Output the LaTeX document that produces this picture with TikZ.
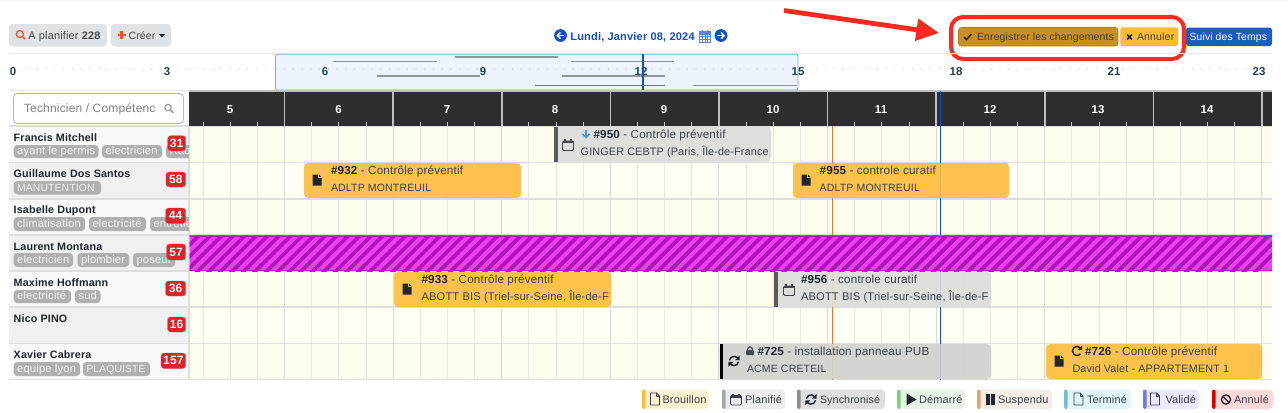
\documentclass[tikz,border=0pt]{standalone}
\usepackage{fontspec}
\setmainfont[LetterSpace=1.5]{Liberation Sans}
\usetikzlibrary{arrows.meta}
\definecolor{rowa}{HTML}{F8F8F8}
\definecolor{rowb}{HTML}{F0F0F0}
\definecolor{cella}{HTML}{FDFDEE}
\definecolor{cellb}{HTML}{FFFFF6}
\definecolor{gridl}{HTML}{E8E8DE}
\definecolor{gridm}{HTML}{DADAD6}
\definecolor{rowl}{HTML}{DEDEDE}
\definecolor{headk}{HTML}{2E2E2E}
\definecolor{ink}{HTML}{20262C}
\definecolor{txt}{HTML}{3A3F45}
\definecolor{tagg}{HTML}{B0B0B0}
\definecolor{badge}{HTML}{DD2327}
\definecolor{jaune}{HTML}{FDBD3F}
\definecolor{gristask}{HTML}{DCDCDC}
\definecolor{bleu}{HTML}{1450BE}
\definecolor{rouge}{HTML}{FF2A1F}
\definecolor{btn}{HTML}{E0E3E6}
\definecolor{orangel}{HTML}{E07A3A}
\definecolor{selfill}{HTML}{E9F2FD}
\definecolor{selline}{HTML}{74ACEC}
\definecolor{magA}{HTML}{EC42EE}
\definecolor{magB}{HTML}{B010BE}
\definecolor{orng}{HTML}{F8502A}
\definecolor{ovl}{HTML}{8E959B}
\definecolor{tickc}{HTML}{22404E}
\definecolor{enr}{HTML}{C8911F}
\definecolor{enrb}{HTML}{B08018}
\definecolor{ann}{HTML}{FFBC33}
\definecolor{suivi}{HTML}{1E5CC4}
\newcommand{\fsz}[1]{\fontsize{#1pt}{10pt}\selectfont}
\tikzset{
  x=0.75pt,y=-0.75pt,
  tx/.style={inner sep=0pt,outer sep=0pt,anchor=base west,font=\fsz{8.2},text=txt},
  titl/.style={tx,font=\fsz{8.75}},
  nm/.style={tx,font=\fsz{8.05}\bfseries,text=ink},
  taglab/.style={tx,text=white!95!black,font=\fsz{8.4}},
  ticklab/.style={anchor=base,inner sep=0pt,font=\fsz{8.6}\bfseries,text=tickc},
  hd/.style={anchor=base,inner sep=0pt,font=\fsz{8.6}\bfseries,text=white},
  icline/.style={line width=0.7pt,line cap=round,line join=round},
}
\newcommand{\tagpill}[6]{%
  \fill[tagg,rounded corners=2.6pt] (#2,#4) rectangle (#3,#5);
  \node[taglab] (#1) at ({#2+3.5},{#5-3.2}) {#6};}
\newcommand{\badgebox}[5]{%
  \draw[badge!80!white,fill=badge,rounded corners=2.4pt,line width=0.3pt] (#2,#3) rectangle (185.7,#4);
  \node[anchor=base,inner sep=0pt,font=\fsz{9}\bfseries,text=white] (#1) at ({(#2+185.7)/2},{#4-3.9}) {#5};}
\newcommand{\taskbg}[5]{%
  \fill[#5,fill opacity=0.92,rounded corners=3pt] (#1,#3) rectangle (#2,#4);}
\newcommand{\icdocfull}[3]{\begin{scope}[shift={(#1,#2)}]
  \fill[#3] (-4.5,-5.5) -- (1,-5.5) -- (1,-2) -- (4.5,-2) -- (4.5,5.5) -- (-4.5,5.5) -- cycle;
  \fill[#3] (2,-5.5) -- (4.5,-3) -- (2,-3) -- cycle;\end{scope}}
\newcommand{\icdocline}[3]{\begin{scope}[shift={(#1,#2)}]
  \draw[#3,icline] (-4.5,-6) -- (1.5,-6) -- (4.5,-3) -- (4.5,6) -- (-4.5,6) -- cycle;
  \draw[#3,icline] (1.5,-6) -- (1.5,-3) -- (4.5,-3);\end{scope}}
\newcommand{\iccal}[3]{\begin{scope}[shift={(#1,#2)}]
  \draw[#3,icline,rounded corners=1pt] (-5.5,-4) rectangle (5.5,5.5);
  \fill[#3] (-5.5,-4) rectangle (5.5,-1.6);
  \fill[#3] (-3.8,-6) rectangle (-2.4,-3.5);
  \fill[#3] (2.4,-6) rectangle (3.8,-3.5);\end{scope}}
\newcommand{\icsync}[3]{\begin{scope}[shift={(#1,#2)}]
  \draw[#3,line width=1.1pt] (-4.6,-0.8) arc (-170:-40:4.7);
  \draw[#3,line width=1.1pt] (4.6,0.8) arc (10:140:4.7);
  \fill[#3] (5.7,-5.7) -- (5.7,-0.9) -- (0.9,-0.9) -- cycle;
  \fill[#3] (-5.7,5.7) -- (-5.7,0.9) -- (-0.9,0.9) -- cycle;\end{scope}}
\newcommand{\icredo}[3]{\begin{scope}[shift={(#1,#2)}]
  \draw[#3,line width=1.1pt] (3.3,-3.3) arc (-45:-320:4.6);
  \fill[#3] (5,-5.5) -- (5,-1) -- (0.8,-1) -- cycle;\end{scope}}
\newcommand{\iclock}[3]{\begin{scope}[shift={(#1,#2)}]
  \draw[#3,line width=0.9pt] (-2.4,-0.5) -- (-2.4,-1.6) arc (180:360:2.4) -- (2.4,-0.5);
  \fill[#3,rounded corners=0.5pt] (-3.8,-0.8) rectangle (3.8,4);\end{scope}}
\newcommand{\iccircarrow}[3]{\begin{scope}[shift={(#1,#2)}]
  \fill[bleu] (0,0) circle (6.4);
  \begin{scope}[xscale=#3]
  \draw[white,line width=1.1pt] (-3.2,0) -- (3.6,0);
  \draw[white,line width=1.1pt] (-0.2,-3) -- (-3.2,0) -- (-0.2,3);
  \end{scope}\end{scope}}
\newcommand{\legitem}[4]{%
  \fill[#4,rounded corners=3pt] (#1,389.5) rectangle (#2,409);
  \fill[#3,rounded corners=1.5pt] (#1,389.5) rectangle ({#1+3.6},409);}
\begin{document}
\begin{tikzpicture}
\useasboundingbox (0,0) rectangle (1288,412);
\fill[white] (0,0) rectangle (1288,412);
\fill[gray!8] (0,0) rectangle (1288,0.8);
% ---------- top bar
\fill[btn,rounded corners=2.5pt] (9,24) rectangle (107,46.5);
\draw[orng,line width=0.9pt] (19.8,34) circle (3.6);
\draw[orng,line width=1.1pt] (22.4,36.6) -- (25,39.2);
\node[tx,text=ink!85] (aplan) at (28.5,39.5) {A planifier \textbf{228}};
\fill[btn,rounded corners=2.5pt] (111,24) rectangle (171,46.5);
\fill[orng] (117.5,34.2) rectangle (125.5,36.4);
\fill[orng] (120.4,31.2) rectangle (122.6,39.4);
\node[tx,text=ink!85,font=\fsz{7.9}] (creer) at (128.5,39.5) {Créer};
\fill[ink] (159,34) -- (165,34) -- (162,37.4) -- cycle;
% date
\iccircarrow{560.5}{35.5}{1}
\node[anchor=base,inner sep=0pt,text=bleu,font=\fsz{8.3}\bfseries] (date) at (632.5,40.5) {Lundi, Janvier 08, 2024};
\begin{scope}[shift={(705,36)}]
 \draw[bleu!70!white,line width=0.5pt] (-5.5,-4.5) rectangle (5.5,6);
 \fill[bleu!70!white] (-5.5,-4.5) rectangle (5.5,-1.5);
 \foreach \g in {-2.7,0,2.7}{\draw[bleu!70!white,line width=0.4pt] (\g,-1.5) -- (\g,6);}
 \foreach \g in {0.6,3.3}{\draw[bleu!70!white,line width=0.4pt] (-5.5,\g) -- (5.5,\g);}
 \fill[bleu!70!white] (-3.4,-6) rectangle (-2.2,-3.5);
 \fill[bleu!70!white] (2.2,-6) rectangle (3.4,-3.5);
\end{scope}
\iccircarrow{721}{35.5}{-1}
% right buttons
\draw[enrb,fill=enr,rounded corners=2pt,line width=0.4pt] (958.5,27.5) rectangle (1118,46);
\begin{scope}[shift={(964,36.5)}]\draw[ink,line width=1.1pt] (0,0.5) -- (2.5,3) -- (7.5,-2.5);\end{scope}
\node[tx,font=\fsz{7.85}] (enreg) at (977,40.5) {Enregistrer les changements};
\draw[ann!85!black,fill=ann,rounded corners=2pt,line width=0.2pt] (1120.5,27.5) rectangle (1178,46);
\begin{scope}[shift={(1129.5,37)}]\draw[ink,line width=1.3pt] (-2.4,-2.4) -- (2.4,2.4) (-2.4,2.4) -- (2.4,-2.4);\end{scope}
\node[tx,font=\fsz{7.9}] (annul) at (1137,40.5) {Annuler};
\fill[suivi,rounded corners=2pt] (1186,27.5) rectangle (1272,46);
\node[tx,text=white,font=\fsz{7.8}] (suivit) at (1189.5,40.5) {Suivi des Temps};
\draw[rouge,line width=3pt,rounded corners=9pt] (951,17) rectangle (1184,59);
% red arrow
\coordinate (arrowstart) at (784,10.5);
\coordinate (arrowtip) at (939,33);
\draw[rouge,line width=3.6pt,-{Triangle[length=17pt,width=16pt]}] (arrowstart) -- (arrowtip);
% ---------- overview
\fill[rowl!70!white] (9,53) rectangle (1272,54.3);
\fill[rowl!70!white] (9,89.6) rectangle (1272,91);
\foreach \d in {0,...,141}{\fill[gray!40] ({20+8.75*\d},69) circle (0.7);}
\draw[selline,fill=selfill,fill opacity=0.85,rounded corners=1.5pt,line width=0.6pt] (275.5,54.3) rectangle (798,90);
\foreach \d in {0,...,59}{\fill[gray!40] ({276+8.75*\d},69) circle (0.7);}
\foreach \a/\b/\c in {333/437/61.5,455/558/57,571/674/61.5,377/480/76,562/665/76,693/797/85.5}{\draw[ovl,line width=1pt] (\a,\c) -- (\b,\c);}
\draw[ovl!80!black,line width=1pt] (535,85.5) -- (665,85.5);
\foreach \p/\v in {13/0,167/3,325/6,483/9,641/12,798/15,956/18,1114/21,1259/23}{\node[ticklab] (ov\v) at (\p,75.5) {\v};}
\draw[bleu,line width=0.9pt] (643,54.3) -- (643,90);
% ---------- search
\draw[rowl!80!blue,fill=white,rounded corners=3pt,line width=0.6pt] (13.5,93.5) rectangle (183.5,123.5);
\node[tx,text=gray,font=\fsz{9}] (search) at (24,112.5) {Technicien / Compétenc};
\draw[gray!80,line width=0.8pt] (168,107.5) circle (3.2);
\draw[gray!80,line width=1.2pt] (170.4,110) -- (173.2,112.8);
% ---------- rows
\foreach \ya/\yb/\ca/\cb in {126/162.5/rowa/cella,162.5/199/rowb/cellb,199/235/rowa/cella,235/271/rowb/cella,271/307/rowa/cella,307/343.5/rowb/cellb,343.5/379.5/rowa/cella}{
  \fill[\ca] (9,\ya) rectangle (189,\yb);
  \fill[\cb] (189,\ya) rectangle (1272,\yb);}
% grid
\foreach \k in {0,...,39}{\draw[gridl,line width=0.6pt] ({203+27.15*\k},126) -- ({203+27.15*\k},379.5);}
\foreach \k in {0,...,9}{\draw[gridm,line width=0.8pt] ({284.5+108.6*\k},126) -- ({284.5+108.6*\k},379.5);}
\foreach \r in {126,162.5,199,235,271,307,343.5,379.5}{\draw[rowl,line width=0.8pt] (9,\r) -- (1272,\r);}
\draw[rowl,line width=0.8pt] (189,126) -- (189,379.5);
% tags
\begin{scope}
\clip (9,126) rectangle (189,380);
\tagpill{t1a}{13.7}{98.5}{145}{158}{ayant le permis}
\tagpill{t1b}{102}{162}{145}{158}{electricien}
\tagpill{t1c}{166}{200}{145}{158}{Rab}
\tagpill{t2a}{13.7}{101}{181}{194.5}{\fsz{7.75}MANUTENTION}
\tagpill{t3a}{13.7}{85}{217}{231}{climatisation}
\tagpill{t3b}{89}{146}{217}{231}{electricité}
\tagpill{t3c}{150}{205}{217}{231}{entretien}
\tagpill{t4a}{13.7}{73}{253}{267}{electricien}
\tagpill{t4b}{77.5}{129}{253}{267}{plombier}
\tagpill{t4c}{133}{175}{253}{267}{poseur}
\tagpill{t5a}{13.7}{71}{290}{303}{electricité}
\tagpill{t5b}{75}{100.5}{290}{303}{sud}
\tagpill{t7a}{13.7}{80}{362}{376}{equipe lyon}
\tagpill{t7b}{83}{150}{362}{376}{\fsz{7.7}PLAQUISTE}
\end{scope}
% names
\node[nm] (n1) at (13.7,141) {Francis Mitchell};
\node[nm] (n2) at (13.7,177) {Guillaume Dos Santos};
\node[nm] (n3) at (13.7,213.5) {Isabelle Dupont};
\node[nm] (n4) at (13.7,250) {Laurent Montana};
\node[nm] (n5) at (13.7,286.5) {Maxime Hoffmann};
\node[nm] (n6) at (13.7,322.5) {Nico PINO};
\node[nm] (n7) at (13.7,358.5) {Xavier Cabrera};
% badges
\badgebox{b1}{167.7}{135.7}{151}{31}
\badgebox{b2}{166}{172}{187}{58}
\badgebox{b3}{165.5}{208}{223.5}{44}
\badgebox{b4}{166.5}{244}{260}{57}
\badgebox{b5}{165.5}{281}{296}{36}
\badgebox{b6}{167.5}{317}{332}{16}
\badgebox{b7}{161}{353}{368.5}{157}
% ---------- header
\fill[headk] (189,91) rectangle (1272,126);
\foreach \k in {0,...,39}{\draw[gray!45,line width=0.6pt] ({203+27.15*\k},122) -- ({203+27.15*\k},126);}
\foreach \k in {0,...,9}{\draw[gray!50,line width=1.2pt] ({284.5+108.6*\k},91) -- ({284.5+108.6*\k},126);}
\draw[gray!50,line width=1.2pt] (189,91) -- (1272,91);
\foreach \p/\v in {230/5,338.5/6,447/7,555/8,664/9,773/10,881/11,990/12,1098/13,1207/14}{\node[hd] (h\v) at (\p,113) {\v};}
% now lines
\draw[orangel,line width=1.1pt] (832.5,126) -- (832.5,380);
\draw[bleu,line width=0.9pt] (940.7,91) -- (940.7,380);
% stripes
\begin{scope}
\clip (189.5,235.5) rectangle (1272,271);
\fill[magA] (189,235) rectangle (1272,271);
\foreach \k in {0,...,96}{\draw[magB,line width=2.9pt] ({150+11.5*\k},273) -- ({150+11.5*\k+40},233);}
\fill[magB] (189,235.5) rectangle (1272,236.8);
\fill[magB] (189,269.8) rectangle (1272,271);
\end{scope}
% ---------- tasks
\taskbg{554}{771}{126.5}{162}{gristask}
\fill[black!65] (554,126.5) rectangle (558,162);
\iccal{568}{145}{ink!85}
\begin{scope}[shift={(586,134)}]\draw[cyan!60!blue!70,line width=1.2pt] (0,-4) -- (0,3.5);\draw[cyan!60!blue!70,line width=1.2pt] (-3.6,0) -- (0,3.5) -- (3.6,0);\end{scope}
\node[titl] (c950a) at (593.5,138) {\textbf{\textcolor{ink}{\#950}} - Contrôle préventif};
\node[tx,font=\fsz{8.1}] (c950b) at (580.7,155) {GINGER CEBTP (Paris, Île-de-France};
\taskbg{304}{521}{163}{198}{jaune}
\icdocfull{317}{180}{ink}
\node[titl] (c932a) at (331,174) {\textbf{\textcolor{ink}{\#932}} - Contrôle préventif};
\node[tx,font=\fsz{7.9}] (c932b) at (331,191) {ADLTP MONTREUIL};
\taskbg{793}{1009}{163}{198}{jaune}
\icdocfull{806}{180}{ink}
\node[titl] (c955a) at (819.7,174) {\textbf{\textcolor{ink}{\#955}} - controle curatif};
\node[tx,font=\fsz{7.9}] (c955b) at (819.7,191) {ADLTP MONTREUIL};
\taskbg{394}{611}{271.8}{307}{jaune}
\icdocfull{407}{289}{ink}
\node[titl] (c933a) at (421.5,283) {\textbf{\textcolor{ink}{\#933}} - Contrôle préventif};
\node[tx,font=\fsz{8.35}] (c933b) at (421.5,300) {ABOTT BIS (Triel-sur-Seine, Île-de-F};
\taskbg{774}{991}{271.8}{307}{gristask}
\fill[black!65] (774,271.8) rectangle (778,307);
\iccal{789}{290}{ink!85}
\node[titl] (c956a) at (801,283) {\textbf{\textcolor{ink}{\#956}} - controle curatif};
\node[tx,font=\fsz{8.35}] (c956b) at (801,300) {ABOTT BIS (Triel-sur-Seine, Île-de-F};
\taskbg{719.5}{991}{344}{379}{gristask!95!black}
\fill[black] (719.5,344) rectangle (723.3,379);
\icsync{734}{361}{ink}
\iclock{750}{351}{ink!85}
\node[titl] (c725a) at (757.5,355) {\textbf{\textcolor{ink}{\#725}} - installation panneau PUB};
\node[tx,font=\fsz{7.9}] (c725b) at (747,372) {ACME CRETEIL};
\taskbg{1046}{1262}{344}{379}{jaune}
\icdocfull{1059}{361}{ink}
\icredo{1077}{351}{ink}
\node[titl] (c726a) at (1085,355) {\textbf{\textcolor{ink}{\#726}} - Contrôle préventif};
\node[tx,font=\fsz{8.1}] (c726b) at (1072.5,372) {David Valet - APPARTEMENT 1};
% ---------- legend
\legitem{642}{709}{ann}{ann!22!white}
\icdocline{655}{399}{txt}
\node[tx] (l1) at (662.5,403) {Brouillon};
\legitem{722}{785}{gray!70}{gray!15}
\iccal{736}{399.5}{txt}
\node[tx] (l2) at (745,403) {Planifié};
\legitem{797}{885}{gray!90}{gray!25}
\icsync{811}{399.5}{ink}
\node[tx,font=\fsz{7.95}] (l3) at (820,403) {Synchronisé};
\legitem{897}{965}{green!45!gray!70}{green!30!gray!14}
\fill[ink] (906.5,393.5) -- (916.5,399.5) -- (906.5,405.5) -- cycle;
\node[tx] (l4) at (919,403) {Démarré};
\legitem{977}{1052}{orange!60!gray!70}{orange!30!gray!14}
\fill[ink] (986,394) rectangle (989.5,405);
\fill[ink] (991,394) rectangle (994.5,405);
\node[tx] (l5) at (998,403) {Suspendu};
\legitem{1064}{1131}{cyan!55!gray!80}{cyan!12!white}
\icdocline{1078.5}{399}{txt}
\node[tx] (l6) at (1087,403) {Terminé};
\legitem{1143}{1199}{blue!55!white}{blue!9!white}
\icdocline{1155}{399}{txt}
\node[tx] (l7) at (1165.5,403) {Validé};
\legitem{1212}{1273}{red!85!black}{red!15!white}
\draw[ink,line width=1pt] (1226,399.5) circle (4.6);
\draw[ink,line width=1pt] (1222.8,396.3) -- (1229.2,402.7);
\node[tx] (l8) at (1234,403) {Annulé};
\end{tikzpicture}
\end{document}
